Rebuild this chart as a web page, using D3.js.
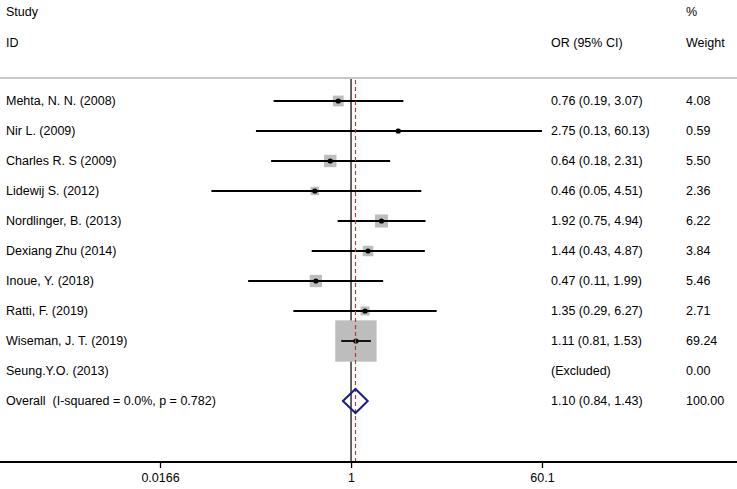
<!DOCTYPE html>
<html><head><meta charset="utf-8">
<script src="https://cdn.jsdelivr.net/npm/d3@7"></script>
<style>
html,body{margin:0;padding:0;background:#fff;}
text{font-family:"Liberation Sans",Arial,sans-serif;font-size:12.5px;fill:#000;white-space:pre;}
</style></head>
<body><svg id="c" width="737" height="489"></svg>
<script>
const studies = ["Mehta, N. N. (2008)","Nir L. (2009)","Charles R. S (2009)","Lidewij S. (2012)","Nordlinger, B. (2013)","Dexiang Zhu (2014)","Inoue, Y. (2018)","Ratti, F. (2019)","Wiseman, J. T. (2019)","Seung.Y.O. (2013)"];
const orValues = [0.76, 2.75, 0.64, 0.46, 1.92, 1.44, 0.47, 1.35, 1.11, null];
const ciLow = [0.19, 0.13, 0.18, 0.05, 0.75, 0.43, 0.11, 0.29, 0.81, null];
const ciHigh = [3.07, 60.13, 2.31, 4.51, 4.94, 4.87, 1.99, 6.27, 1.53, null];
const weights = [4.08, 0.59, 5.50, 2.36, 6.22, 3.84, 5.46, 2.71, 69.24, 0.00];
const overallLabel = "Overall  (I-squared = 0.0%, p = 0.782)";
const overall = {or: 1.10, lo: 0.84, hi: 1.43, weight: 100.00};
const tickValues = [0.0166, 1, 60.1];
const tickLabels = ["0.0166", "1", "60.1"];

const svg = d3.select("#c");
const W = 737;
const x = d3.scaleLog().domain([0.0166, 60.1]).range([160, 542]);
const rowY = d3.scaleLinear().domain([0, 1]).range([101, 131]);
const boxSide = w => 4.85 * Math.sqrt(w) + 1;
const fmt = d3.format(".2f");

const topY = 78, axisY = 462;
const xStudy = 6, xCI = 551, xW = 686;

// headers
svg.append("text").attr("x", xStudy).attr("y", 16).text("Study");
svg.append("text").attr("x", xStudy).attr("y", 47).text("ID");
svg.append("text").attr("x", xCI).attr("y", 47).text("OR (95% CI)");
svg.append("text").attr("x", xW).attr("y", 16).text("%");
svg.append("text").attr("x", xW).attr("y", 47).text("Weight");

// top separator
svg.append("line").attr("x1", 0).attr("x2", W).attr("y1", topY).attr("y2", topY)
  .attr("stroke", "#c8c8c8").attr("stroke-width", 2);

// null line
svg.append("line").attr("x1", x(1)).attr("x2", x(1)).attr("y1", topY + 1).attr("y2", axisY)
  .attr("stroke", "#333").attr("stroke-width", 1.5);

// rows
studies.forEach((s, i) => {
  const y = rowY(i);
  svg.append("text").attr("x", xStudy).attr("y", y + 4).text(s);
  const lab = orValues[i] == null ? "(Excluded)" : `${fmt(orValues[i])} (${fmt(ciLow[i])}, ${fmt(ciHigh[i])})`;
  svg.append("text").attr("x", xCI).attr("y", y + 4).text(lab);
  svg.append("text").attr("x", xW).attr("y", y + 4).text(fmt(weights[i]));
  if (orValues[i] != null) {
    const side = boxSide(weights[i]);
    const cx = x(orValues[i]);
    svg.append("rect").attr("x", cx - side / 2).attr("y", y - side / 2)
      .attr("width", side).attr("height", side).attr("fill", "#bdbdbd");
    svg.append("line").attr("x1", x(ciLow[i])).attr("x2", x(ciHigh[i])).attr("y1", y).attr("y2", y)
      .attr("stroke", "#000").attr("stroke-width", 1.8);
    svg.append("circle").attr("cx", cx).attr("cy", y).attr("r", 2.6).attr("fill", "#000");
  }
});

// overall
const oy = rowY(studies.length);
svg.append("text").attr("x", xStudy).attr("y", oy + 4).text(overallLabel);
svg.append("text").attr("x", xCI).attr("y", oy + 4).text(`${fmt(overall.or)} (${fmt(overall.lo)}, ${fmt(overall.hi)})`);
svg.append("text").attr("x", xW).attr("y", oy + 4).text(fmt(overall.weight));

// red dashed overall line
svg.append("line").attr("x1", x(overall.or)).attr("x2", x(overall.or)).attr("y1", topY + 2).attr("y2", axisY)
  .attr("stroke", "#b83a3a").attr("stroke-width", 1.2).attr("stroke-dasharray", "4,3");

const dh = 12;
svg.append("path")
  .attr("d", `M${x(overall.lo)},${oy} L${x(overall.or)},${oy - dh} L${x(overall.hi)},${oy} L${x(overall.or)},${oy + dh} Z`)
  .attr("fill", "none").attr("stroke", "#1c1c8a").attr("stroke-width", 2);

// axis
const axis = d3.axisBottom(x).tickValues(tickValues).tickSize(6)
  .tickFormat((d, i) => tickLabels[i]);
const g = svg.append("g").attr("transform", `translate(0,${axisY})`).call(axis);
g.select(".domain").remove();
g.selectAll(".tick line").attr("stroke", "#000").attr("stroke-width", 1.3);
g.selectAll(".tick text").attr("font-size", 12).attr("font-family", "Liberation Sans, Arial, sans-serif").attr("dy", "0.9em").attr("fill", "#000");
svg.append("line").attr("x1", 0).attr("x2", W).attr("y1", axisY).attr("y2", axisY)
  .attr("stroke", "#000").attr("stroke-width", 2);
</script></body></html>
